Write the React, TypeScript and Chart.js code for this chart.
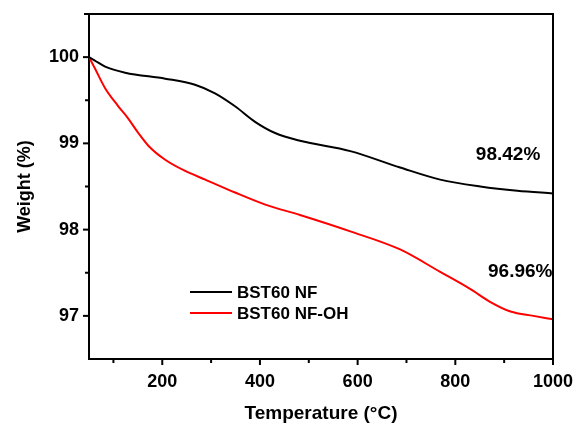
import React, { useEffect, useRef } from "react";
import { Chart, registerables } from "chart.js";

Chart.register(...registerables);

const temps = [50, 62, 83, 124, 206, 267, 308, 349, 390, 431, 482, 585, 687, 769, 851, 927, 1000];
const weightNF = [100, 99.96, 99.89, 99.82, 99.75, 99.68, 99.58, 99.43, 99.25, 99.12, 99.03, 98.91, 98.72, 98.58, 98.5, 98.45, 98.42];

const tempsOH = [50, 62, 83, 110, 130, 151, 172, 206, 247, 288, 349, 411, 482, 585, 687, 769, 831, 872, 913, 960, 1000];
const weightOH = [100, 99.87, 99.64, 99.43, 99.29, 99.12, 98.97, 98.81, 98.68, 98.58, 98.43, 98.29, 98.17, 97.98, 97.77, 97.51, 97.31, 97.16, 97.05, 97.0, 96.96];

const seriesNames = ["BST60 NF", "BST60 NF-OH"];
const seriesColors = ["#000000", "#ff0000"];

const xMajorTicks = [200, 400, 600, 800, 1000];
const xMinorTicks = [100, 300, 500, 700, 900];
const yMajorTicks = [97, 98, 99, 100];
const yMinorTicks = [97.5, 98.5, 99.5];

const annotationTexts = ["98.42%", "96.96%"];
const annotationX = [908, 933];
const annotationY = [98.87, 97.51];

const FONT = "'Liberation Sans', Arial, sans-serif";

export default function App() {
  const ref = useRef<HTMLCanvasElement>(null);
  useEffect(() => {
    if (!ref.current) return;
    const decor = {
      id: "decor",
      afterDraw(chart: any) {
        const ctx = chart.ctx;
        const ca = chart.chartArea;
        const xs = chart.scales.x;
        const ys = chart.scales.y;
        ctx.save();
        ctx.strokeStyle = "#000";
        ctx.lineWidth = 2;
        ctx.beginPath();
        ctx.moveTo(ca.left - 5, ca.top);
        ctx.lineTo(ca.right, ca.top);
        ctx.lineTo(ca.right, ca.bottom);
        ctx.stroke();
        const tick = (x1: number, y1: number, x2: number, y2: number) => {
          ctx.beginPath();
          ctx.moveTo(x1, y1);
          ctx.lineTo(x2, y2);
          ctx.stroke();
        };
        xMajorTicks.forEach((v) => {
          const p = xs.getPixelForValue(v);
          tick(p, ca.bottom, p, ca.bottom + 6);
        });
        xMinorTicks.forEach((v) => {
          const p = xs.getPixelForValue(v);
          tick(p, ca.bottom, p, ca.bottom + 4);
        });
        yMajorTicks.forEach((v) => {
          const p = ys.getPixelForValue(v);
          tick(ca.left, p, ca.left - 6, p);
        });
        yMinorTicks.forEach((v) => {
          const p = ys.getPixelForValue(v);
          tick(ca.left, p, ca.left - 4, p);
        });
        ctx.fillStyle = "#000";
        ctx.font = `bold 19px ${FONT}`;
        ctx.textAlign = "center";
        ctx.textBaseline = "middle";
        annotationTexts.forEach((t, i) => {
          ctx.fillText(t, xs.getPixelForValue(annotationX[i]), ys.getPixelForValue(annotationY[i]));
        });
        ctx.font = `bold 17px ${FONT}`;
        ctx.textAlign = "left";
        const lx = ca.left + 101;
        const ly = [292, 313];
        seriesNames.forEach((n, i) => {
          ctx.strokeStyle = seriesColors[i];
          ctx.lineWidth = 2;
          tick(lx, ly[i], lx + 42, ly[i]);
          ctx.fillStyle = "#000";
          ctx.fillText(n, lx + 47, ly[i] + 1);
        });
        ctx.restore();
      },
    };
    const chart = new Chart(ref.current, {
      type: "line",
      data: {
        datasets: [
          {
            label: seriesNames[0],
            data: temps.map((t, i) => ({ x: t, y: weightNF[i] })),
            borderColor: seriesColors[0],
            borderWidth: 2,
            pointRadius: 0,
            cubicInterpolationMode: "monotone",
          },
          {
            label: seriesNames[1],
            data: tempsOH.map((t, i) => ({ x: t, y: weightOH[i] })),
            borderColor: seriesColors[1],
            borderWidth: 2,
            pointRadius: 0,
            cubicInterpolationMode: "monotone",
          },
        ],
      },
      options: {
        responsive: false,
        animation: false,
        layout: { padding: { left: 0, top: 14, right: 22, bottom: 0 } },
        plugins: { legend: { display: false }, tooltip: { enabled: false } },
        scales: {
          x: {
            type: "linear",
            min: 50,
            max: 1000,
            afterBuildTicks: (s: any) => {
              s.ticks = xMajorTicks.map((v) => ({ value: v }));
            },
            afterFit: (s: any) => {
              s.height = 66;
              s.paddingLeft = 0;
              s.paddingRight = 0;
            },
            grid: { display: false, drawTicks: false },
            border: { display: true, color: "#000", width: 2 },
            ticks: {
              color: "#000",
              padding: 12,
              font: { family: FONT, size: 18, weight: "bold" },
              maxRotation: 0,
              autoSkip: false,
              callback: (v: any) => String(v),
            },
            title: {
              display: true,
              text: "Temperature (°C)",
              color: "#000",
              font: { family: FONT, size: 19, weight: "bold" },
              padding: { top: 8, bottom: 0 },
            },
          },
          y: {
            type: "linear",
            min: 96.5,
            max: 100.5,
            afterBuildTicks: (s: any) => {
              s.ticks = yMajorTicks.map((v) => ({ value: v }));
            },
            afterFit: (s: any) => {
              s.width = 89;
              s.paddingTop = 0;
              s.paddingBottom = 0;
            },
            grid: { display: false, drawTicks: false },
            border: { display: true, color: "#000", width: 2 },
            ticks: {
              color: "#000",
              padding: 10,
              font: { family: FONT, size: 18, weight: "bold" },
              callback: (v: any) => String(v),
            },
            title: {
              display: true,
              text: "Weight (%)",
              color: "#000",
              font: { family: FONT, size: 18, weight: "bold" },
              padding: { top: 14, bottom: 0 },
            },
          },
        },
      },
      plugins: [decor],
    });
    return () => chart.destroy();
  }, []);
  return (
    <div style={{ position: "absolute", left: 0, top: 0, width: 575, height: 425, background: "#fff" }}>
      <canvas ref={ref} width={575} height={425} style={{ display: "block" }} />
    </div>
  );
}
